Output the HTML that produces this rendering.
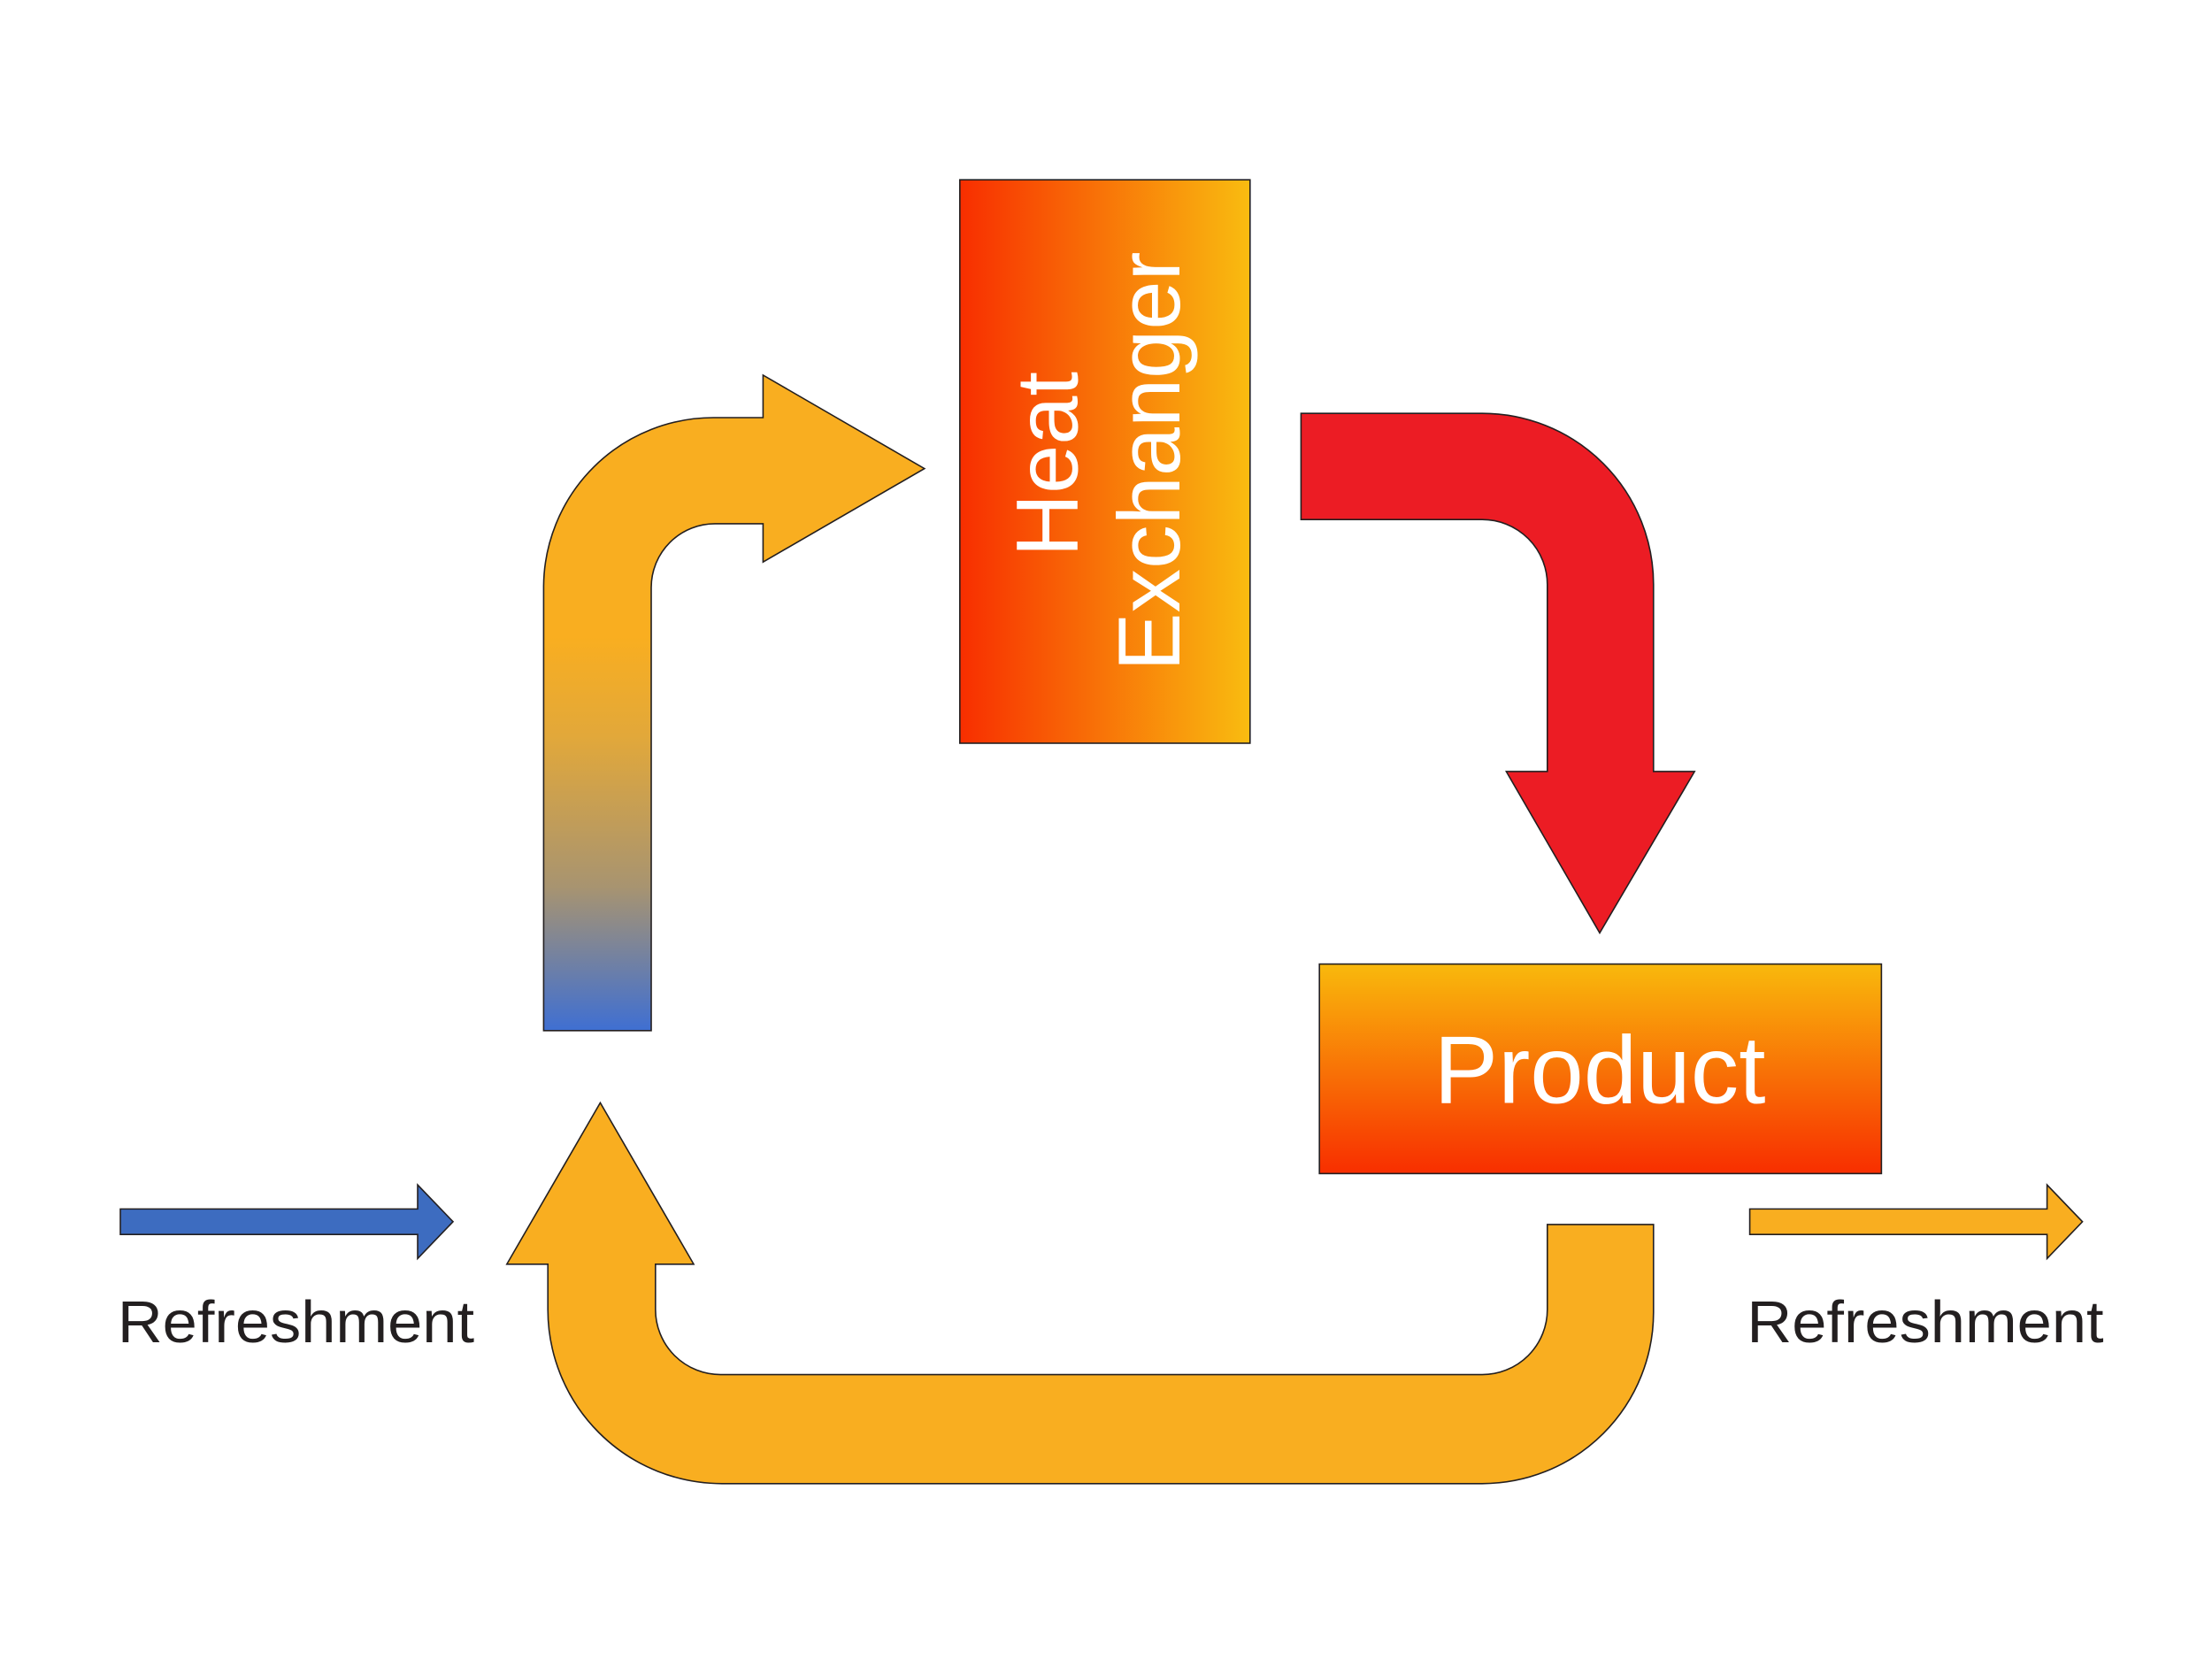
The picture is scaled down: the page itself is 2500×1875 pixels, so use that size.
<!DOCTYPE html>
<html><head><meta charset="utf-8"><style>html,body{margin:0;padding:0;background:#fff}svg{display:block}</style></head>
<body>
<svg width="2500" height="1875" viewBox="0 0 1562.5 1171.9" xmlns="http://www.w3.org/2000/svg">
<defs>
<linearGradient id="he" x1="0" y1="0" x2="1" y2="0"><stop offset="0" stop-color="#f82e00"/><stop offset="1" stop-color="#f9bc10"/></linearGradient>
<linearGradient id="pr" x1="0" y1="0" x2="0" y2="1"><stop offset="0" stop-color="#f9b90c"/><stop offset="1" stop-color="#f82e00"/></linearGradient>
<linearGradient id="up" x1="0" y1="728" x2="0" y2="265" gradientUnits="userSpaceOnUse"><stop offset="0" stop-color="#3f6fd2"/><stop offset="0.22" stop-color="#a89470"/><stop offset="0.45" stop-color="#e2a83a"/><stop offset="0.6" stop-color="#f9ae20"/><stop offset="1" stop-color="#f9ae20"/></linearGradient>
</defs>
<g stroke="#231f20" stroke-width="1">
<rect x="678" y="127" width="205" height="398" fill="url(#he)"/>
<path d="M384 728 L384 414 A120 120 0 0 1 504 295 L539 295 L539 265 L653 331 L539 397 L539 370 L505 370 A45 45 0 0 0 460 415 L460 728 Z" fill="url(#up)"/>
<path d="M919 292 L1047 292 A121 121 0 0 1 1168 413 L1168 545 L1197 545 L1130 659 L1064 545 L1093 545 L1093 413 A46 46 0 0 0 1047 367 L919 367 Z" fill="#ec1c24"/>
<rect x="932" y="681" width="397" height="148" fill="url(#pr)"/>
<path d="M1093 865 L1168 865 L1168 927 A121 121 0 0 1 1047 1048 L510 1048 A123 123 0 0 1 387 925 L387 893 L358 893 L424 779 L490 893 L463 893 L463 925 A46 46 0 0 0 509 971 L1047 971 A46 46 0 0 0 1093 925 Z" fill="#f9ae20"/>
<path d="M85 854 L295 854 L295 837 L320 863 L295 889 L295 872 L85 872 Z" fill="#3d6cc0"/>
<path d="M1236 854 L1446 854 L1446 837 L1471 863 L1446 889 L1446 872 L1236 872 Z" fill="#f9ae20"/>
</g>
<g font-family="Liberation Sans, sans-serif" fill="#fff">
<text transform="translate(761,328) rotate(-90)" text-anchor="middle" font-size="62">Heat</text>
<text transform="translate(833,326) rotate(-90)" text-anchor="middle" font-size="62">Exchanger</text>
<text x="1130" y="779" text-anchor="middle" font-size="68">Product</text>
</g>
<g font-family="Liberation Sans, sans-serif" fill="#231f20" font-size="42">
<text x="83" y="948" textLength="252" lengthAdjust="spacingAndGlyphs">Refreshment</text>
<text x="1234" y="948" textLength="252" lengthAdjust="spacingAndGlyphs">Refreshment</text>
</g>
</svg>
</body></html>
